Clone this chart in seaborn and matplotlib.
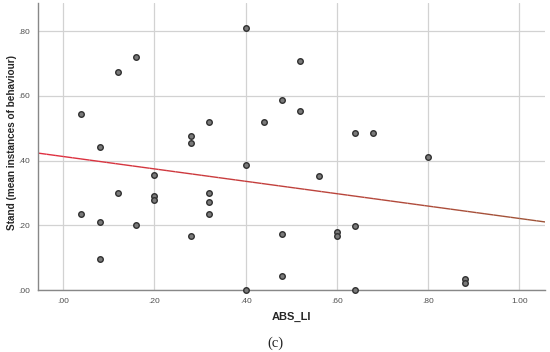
import numpy as np
import pandas as pd
import matplotlib
matplotlib.use("Agg")
import matplotlib.pyplot as plt
import seaborn as sns
from matplotlib.collections import LineCollection
from matplotlib.ticker import FuncFormatter

# Data
abs_li = [0.04, 0.08, 0.12, 0.16, 0.40, 0.32, 0.28, 0.28, 0.40, 0.20,
          0.12, 0.20, 0.20, 0.32, 0.32, 0.32, 0.04, 0.08, 0.16, 0.28,
          0.08, 0.40, 0.52, 0.48, 0.52, 0.64, 0.68, 0.80, 0.56, 0.44,
          0.48, 0.60, 0.60, 0.64, 0.48, 0.64, 0.88, 0.88]
stand = [0.544, 0.442, 0.674, 0.720, 0.810, 0.520, 0.476, 0.454, 0.386, 0.355,
         0.300, 0.290, 0.278, 0.300, 0.272, 0.235, 0.235, 0.210, 0.200, 0.167,
         0.096, 0.000, 0.708, 0.587, 0.553, 0.487, 0.487, 0.410, 0.353, 0.520,
         0.173, 0.180, 0.167, 0.199, 0.043, 0.000, 0.033, 0.022]

df = pd.DataFrame({"ABS_LI": abs_li, "Stand": stand})

sns.set_style("white")
plt.rcParams["font.family"] = ["Liberation Sans", "DejaVu Sans"]

fig = plt.figure(figsize=(5.5, 3.52), dpi=100)
ax = fig.add_axes([0.069, 0.176, 0.922, 0.815])

xmin, xmax = -0.055, 1.056
ax.set_xlim(xmin, xmax)
ax.set_ylim(0, 0.887)

ax.set_xticks([0.0, 0.2, 0.4, 0.6, 0.8, 1.0])
ax.set_yticks([0.0, 0.2, 0.4, 0.6, 0.8])
fmt = FuncFormatter(lambda v, p: ("%.2f" % v).replace("0.", ".", 1) if v < 1 else "%.2f" % v)
ax.xaxis.set_major_formatter(fmt)
ax.yaxis.set_major_formatter(fmt)
ax.grid(True, color="#d2d2d2", linewidth=0.9)
ax.set_axisbelow(True)
ax.tick_params(axis="both", length=0, labelsize=6, colors="#505050", pad=6)

for s in ["top", "right"]:
    ax.spines[s].set_visible(False)
for s in ["left", "bottom"]:
    ax.spines[s].set_color("#888888")
    ax.spines[s].set_linewidth(1.0)

# fit line, red fading to brown
slope, intercept = np.polyfit(df["ABS_LI"], df["Stand"], 1)
xs = np.linspace(xmin, xmax, 60)
ys = intercept + slope * xs
segs = np.stack([np.column_stack([xs[:-1], ys[:-1]]), np.column_stack([xs[1:], ys[1:]])], axis=1)
t = np.linspace(0, 1, len(segs))
c0 = np.array([0.88, 0.18, 0.25])
c1 = np.array([0.62, 0.33, 0.22])
cols = [tuple(c0 + (c1 - c0) * v) for v in t]
ax.add_collection(LineCollection(segs, colors=cols, linewidth=1.0, zorder=2))

sns.scatterplot(data=df, x="ABS_LI", y="Stand", ax=ax, s=16,
                color="#7a7a7a", edgecolor="#303030", linewidth=1.0,
                zorder=3, clip_on=False)

ax.set_xlabel("ABS_LI", fontsize=8, fontweight="bold", labelpad=5)
ax.set_ylabel("Stand (mean instances of behaviour)", fontsize=7.2,
              fontweight="bold")
ax.yaxis.set_label_coords(-0.042, 0.516)

fig.text(0.5, 0.026, "(c)", ha="center", va="center", fontsize=10.5,
         family=["Liberation Serif", "DejaVu Serif"])

fig.savefig("out.png", dpi=100)
